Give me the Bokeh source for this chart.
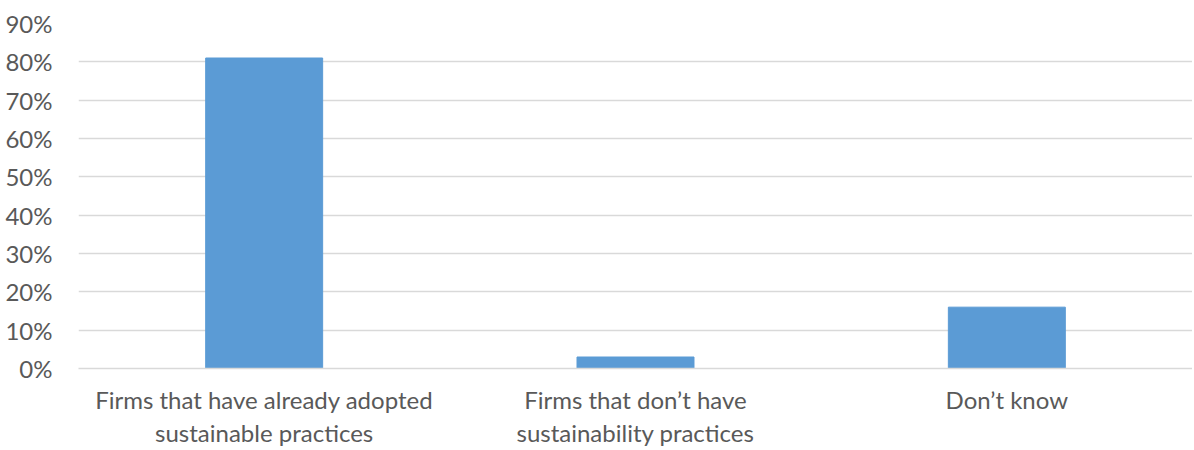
from bokeh.plotting import figure
from bokeh.models import Range1d, NumeralTickFormatter, FixedTicker, ColumnDataSource
from bokeh.embed import file_html
from bokeh.resources import INLINE

categories = ["Firms that have already adopted\nsustainable practices",
              "Firms that don\u2019t have\nsustainability practices",
              "Don\u2019t know"]
values = [0.81, 0.03, 0.16]
y_ticks = [0, 0.1, 0.2, 0.3, 0.4, 0.5, 0.6, 0.7, 0.8, 0.9]

FONT = "Lato"
TEXT = "#595959"
GRID = "#d9d9d9"
BAR = "#5b9bd5"

src = ColumnDataSource(dict(cat=categories, val=values))

p = figure(x_range=categories, y_range=Range1d(0, 0.9), width=1192, height=450,
           output_backend="svg", toolbar_location=None,
           min_border_left=78, min_border_right=0, min_border_top=23, min_border_bottom=80)
p.vbar(x="cat", top="val", width=0.315, source=src, color=BAR, line_color=BAR)

p.outline_line_color = None
p.xgrid.grid_line_color = None
p.ygrid.grid_line_color = GRID
p.ygrid.grid_line_width = 1.5
p.yaxis.ticker = FixedTicker(ticks=y_ticks)
p.yaxis.formatter = NumeralTickFormatter(format="0%")
p.yaxis.axis_line_color = None
p.yaxis.major_tick_line_color = None
p.yaxis.minor_tick_line_color = None
p.yaxis.major_label_text_font = FONT
p.yaxis.major_label_text_font_size = "24px"
p.yaxis.major_label_text_color = TEXT
p.yaxis.major_label_standoff = 20

p.xaxis.axis_line_color = GRID
p.xaxis.axis_line_width = 1.5
p.xaxis.major_tick_line_color = None
p.xaxis.minor_tick_line_color = None
p.xaxis.major_label_text_font = FONT
p.xaxis.major_label_text_font_size = "24px"
p.xaxis.major_label_text_color = TEXT
p.xaxis.major_label_text_line_height = 1.17
p.xaxis.major_label_standoff = 10
p.x_range.range_padding = 0

open("out.html", "w").write(file_html(p, INLINE))
